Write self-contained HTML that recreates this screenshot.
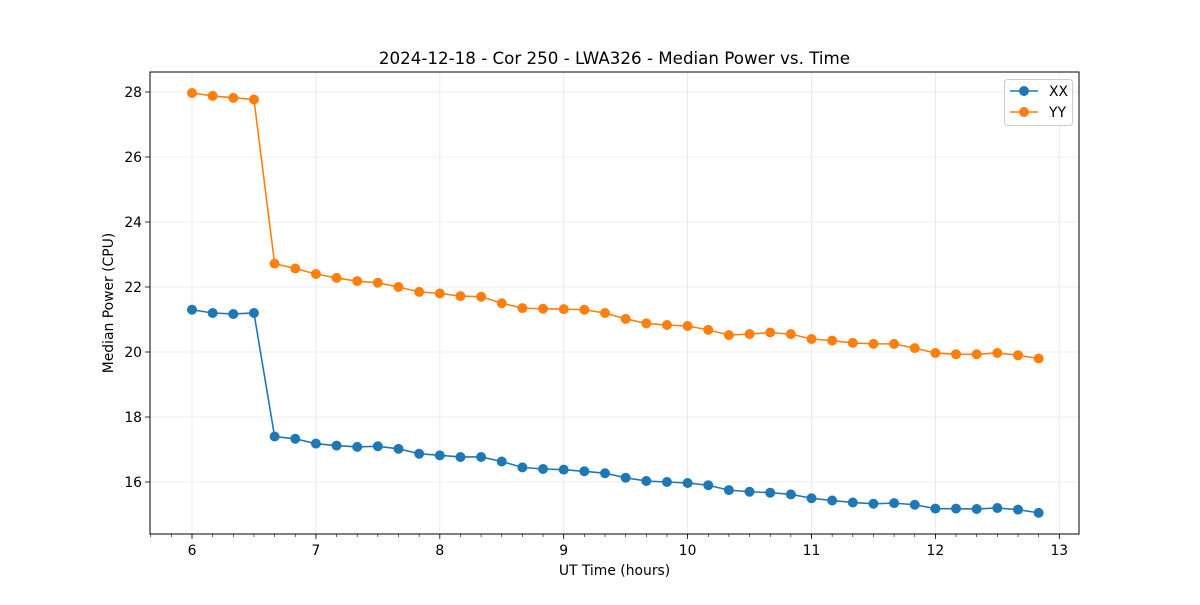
<!DOCTYPE html>
<html><head><meta charset="utf-8"><style>
body{margin:0;background:#fff;font-family:"Liberation Sans","DejaVu Sans",sans-serif;}
svg text{font-family:"DejaVu Sans","Liberation Sans",sans-serif;}
</style></head><body>
<svg id="chart" width="1200" height="600" xmlns="http://www.w3.org/2000/svg">
<rect x="0" y="0" width="1200" height="600" fill="#fff"/>
<g id="grid"></g><g id="axes"></g><g id="series"></g>
<text x="614.5" y="64" font-size="16.7" text-anchor="middle">2024-12-18 - Cor 250 - LWA326 - Median Power vs. Time</text>
<text x="614.5" y="575" font-size="13.9" text-anchor="middle">UT Time (hours)</text>
<text x="113" y="303" font-size="13.9" text-anchor="middle" transform="rotate(-90 113 303)">Median Power (CPU)</text>
<g>
<rect x="1004.5" y="79.5" width="68" height="46" rx="3" fill="#fff" stroke="#ccc"/>
<line x1="1010" y1="91" x2="1038" y2="91" stroke="#1f77b4" stroke-width="1.5"/><circle cx="1024" cy="91" r="5" fill="#1f77b4"/>
<text x="1049" y="96" font-size="13.9">XX</text>
<line x1="1010" y1="112" x2="1038" y2="112" stroke="#ff7f0e" stroke-width="1.5"/><circle cx="1024" cy="112" r="5" fill="#ff7f0e"/>
<text x="1049" y="117" font-size="13.9">YY</text>
</g>
</svg>
<script>
const times = [];
for (let i = 0; i < 42; i++) times.push(6 + i / 6);
const xxValues = [21.3,21.2,21.17,21.2,17.4,17.33,17.18,17.12,17.08,17.1,17.02,16.87,16.82,16.77,16.77,16.63,16.45,16.4,16.38,16.33,16.27,16.13,16.03,16.0,15.97,15.9,15.75,15.7,15.67,15.62,15.5,15.43,15.37,15.33,15.35,15.3,15.18,15.18,15.17,15.2,15.15,15.05];
const yyValues = [27.97,27.88,27.82,27.77,22.72,22.57,22.4,22.28,22.18,22.13,22.0,21.85,21.8,21.72,21.7,21.5,21.35,21.33,21.32,21.3,21.2,21.02,20.88,20.83,20.8,20.68,20.52,20.55,20.6,20.55,20.4,20.35,20.28,20.25,20.25,20.12,19.97,19.93,19.93,19.97,19.9,19.8];
const xTicks = [6,7,8,9,10,11,12,13];
const yTicks = [16,18,20,22,24,26,28];
const L=150,R=1079,T=72,B=534;
const xs = v => 192 + (v - 6) * 123.9;
const ys = v => 482 - (v - 16) * 32.5;
const NS="http://www.w3.org/2000/svg";
function mk(tag, attrs, parent){const e=document.createElementNS(NS,tag);for(const k in attrs)e.setAttribute(k,attrs[k]);parent.appendChild(e);return e;}
const grid=document.getElementById('grid'), axes=document.getElementById('axes'), ser=document.getElementById('series');
xTicks.forEach(t=>{const x=xs(t);
 const g=mk('line',{x1:x,x2:x,y1:T,y2:B,stroke:'#e6e6e6','stroke-width':0.8},grid);
 
 
 mk('line',{x1:x,x2:x,y1:B,y2:B+5,stroke:'#000','stroke-width':0.8},axes);
 const tx=mk('text',{x:x,y:B+21,'font-size':13.9,'text-anchor':'middle'},axes);tx.textContent=t;
 
 
});
for(let k=-2;k<=43;k++){const x=xs(6+k/6);if(x<L||x>R)continue;mk('line',{x1:x,x2:x,y1:B,y2:B+3,stroke:'#000','stroke-width':0.6},axes);}
yTicks.forEach(t=>{const y=ys(t);
 const g=mk('line',{x1:L,x2:R,y1:y,y2:y,stroke:'#e6e6e6','stroke-width':0.8},grid);
 
 
 mk('line',{x1:L-5,x2:L,y1:y,y2:y,stroke:'#000','stroke-width':0.8},axes);
 const tx=mk('text',{x:L-8,y:y+5,'font-size':13.9,'text-anchor':'end'},axes);tx.textContent=t;
 
 
});
mk('rect',{x:L,y:T,width:R-L,height:B-T,fill:'none',stroke:'#000','stroke-width':1},axes);
function series(vals,color,name){
 const p=mk('polyline',{points:vals.map((v,i)=>xs(times[i])+','+ys(v)).join(' '),fill:'none',stroke:color,'stroke-width':1.6},ser);
 
 
 vals.forEach((v,i)=>{const c=mk('circle',{cx:xs(times[i]),cy:ys(v),r:5,fill:color},ser);
  
  });
}
series(xxValues,'#1f77b4','xx');
series(yyValues,'#ff7f0e','yy');
</script>
</body></html>
